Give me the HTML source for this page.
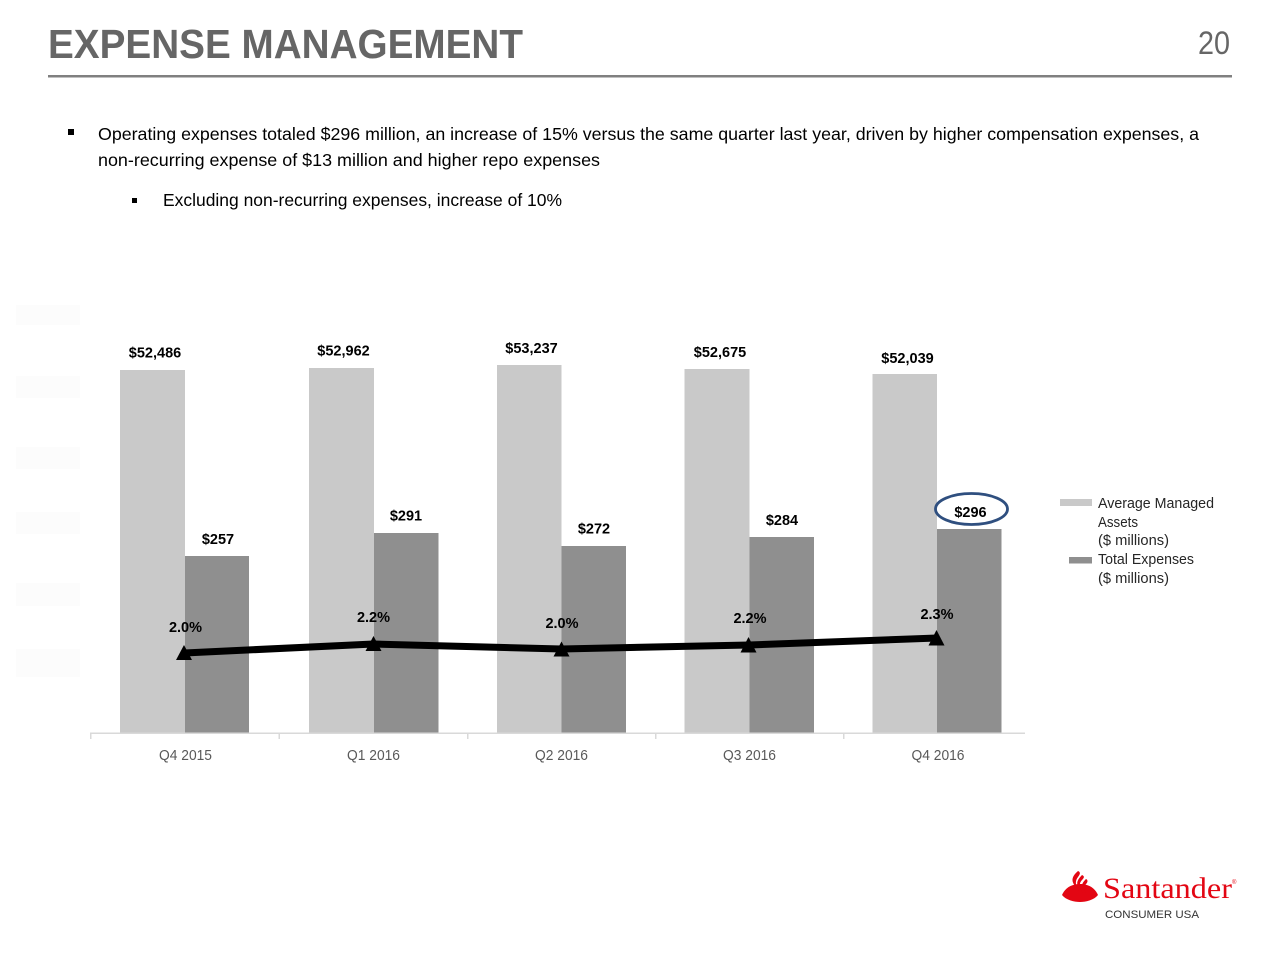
<!DOCTYPE html>
<html>
<head>
<meta charset="utf-8">
<style>
  html, body { margin:0; padding:0; background:#ffffff; }
  body { width:1280px; height:960px; overflow:hidden; }
  svg { display:block; }
  .sans { font-family: "Liberation Sans", Arial, sans-serif; }
  .serif { font-family: "Liberation Serif", "Times New Roman", serif; }
</style>
</head>
<body>
<svg width="1280" height="960" viewBox="0 0 1280 960" xmlns="http://www.w3.org/2000/svg">
  <rect x="0" y="0" width="1280" height="960" fill="#ffffff"/>

  <!-- Header -->
  <text class="sans" x="48" y="58" font-size="41" font-weight="bold" fill="#666666" textLength="475" lengthAdjust="spacingAndGlyphs">EXPENSE MANAGEMENT</text>
  <text class="sans" x="1198" y="54" font-size="32" fill="#666666" textLength="32" lengthAdjust="spacingAndGlyphs">20</text>
  <rect x="48" y="75" width="1184" height="2.5" fill="#808080"/>

  <!-- Bullets -->
  <rect x="68" y="129" width="6" height="6" fill="#000"/>
  <text class="sans" x="98" y="140" font-size="17.5" fill="#000" textLength="1101" lengthAdjust="spacingAndGlyphs">Operating expenses totaled $296 million, an increase of 15% versus the same quarter last year, driven by higher compensation expenses, a</text>
  <text class="sans" x="98" y="166" font-size="17.5" fill="#000" textLength="502" lengthAdjust="spacingAndGlyphs">non-recurring expense of $13 million and higher repo expenses</text>
  <rect x="132" y="198" width="5" height="5" fill="#000"/>
  <text class="sans" x="163" y="206" font-size="17.5" fill="#000" textLength="399" lengthAdjust="spacingAndGlyphs">Excluding non-recurring expenses, increase of 10%</text>

  <!-- faint ghost y-axis labels -->
  <g fill="#fcfcfc">
    <rect x="16" y="305" width="64" height="20"/>
    <rect x="16" y="376" width="64" height="22"/>
    <rect x="16" y="447" width="64" height="22"/>
    <rect x="16" y="512" width="64" height="22"/>
    <rect x="16" y="583" width="64" height="23"/>
    <rect x="16" y="649" width="64" height="28"/>
  </g>

  <!-- Bars: light (Average Managed Assets) -->
  <g fill="#c9c9c9">
    <rect x="120" y="370" width="65" height="363"/>
    <rect x="309" y="368" width="65" height="365"/>
    <rect x="497" y="365" width="64.5" height="368"/>
    <rect x="684.5" y="369" width="65" height="364"/>
    <rect x="872.5" y="374" width="64.5" height="359"/>
  </g>
  <!-- Bars: dark (Total Expenses) -->
  <g fill="#8f8f8f">
    <rect x="185" y="556" width="64" height="177"/>
    <rect x="374" y="533" width="64.5" height="200"/>
    <rect x="561.5" y="546" width="64.5" height="187"/>
    <rect x="749.5" y="537" width="64.5" height="196"/>
    <rect x="937" y="529" width="64.5" height="204"/>
  </g>

  <!-- Axis -->
  <rect x="90" y="732.5" width="935" height="1.5" fill="#d9d9d9"/>
  <g fill="#d9d9d9">
    <rect x="90" y="733" width="1.5" height="6"/>
    <rect x="278.5" y="733" width="1.5" height="6"/>
    <rect x="467" y="733" width="1.5" height="6"/>
    <rect x="655" y="733" width="1.5" height="6"/>
    <rect x="843" y="733" width="1.5" height="6"/>
  </g>
  <g class="sans" font-size="14.5" fill="#595959" text-anchor="middle">
    <text x="185.5" y="760" textLength="53" lengthAdjust="spacingAndGlyphs">Q4 2015</text>
    <text x="373.5" y="760" textLength="53" lengthAdjust="spacingAndGlyphs">Q1 2016</text>
    <text x="561.5" y="760" textLength="53" lengthAdjust="spacingAndGlyphs">Q2 2016</text>
    <text x="749.5" y="760" textLength="53" lengthAdjust="spacingAndGlyphs">Q3 2016</text>
    <text x="938" y="760" textLength="53" lengthAdjust="spacingAndGlyphs">Q4 2016</text>
  </g>

  <!-- Line series -->
  <polyline points="184.5,653 373.5,644 561.5,649 749,645 937,638" fill="none" stroke="#000" stroke-width="7" stroke-linejoin="round"/>
  <g fill="#000">
    <polygon points="184,645 192,660 176,660"/>
    <polygon points="373.5,636 381.5,651 365.5,651"/>
    <polygon points="561.5,641.5 569.5,656.5 553.5,656.5"/>
    <polygon points="748.5,637 756.5,652.5 740.5,652.5"/>
    <polygon points="936.5,630 944.5,645.5 928.5,645.5"/>
  </g>

  <!-- Data labels -->
  <g class="sans" font-size="14.5" font-weight="bold" fill="#000" text-anchor="middle">
    <text x="155" y="357.5">$52,486</text>
    <text x="343.5" y="355.5">$52,962</text>
    <text x="531.5" y="353">$53,237</text>
    <text x="720" y="357">$52,675</text>
    <text x="907.5" y="363">$52,039</text>

    <text x="218" y="544">$257</text>
    <text x="406" y="520.5">$291</text>
    <text x="594" y="533.5">$272</text>
    <text x="782" y="525">$284</text>
    <text x="970.5" y="517">$296</text>

    <text x="185.5" y="632">2.0%</text>
    <text x="373.5" y="622">2.2%</text>
    <text x="562" y="628">2.0%</text>
    <text x="750" y="623">2.2%</text>
    <text x="937" y="619">2.3%</text>
  </g>

  <!-- highlight ellipse -->
  <ellipse cx="971.5" cy="509" rx="36" ry="15.5" fill="none" stroke="#2f4f7f" stroke-width="2.8"/>

  <!-- Legend -->
  <rect x="1060" y="499" width="32" height="7" fill="#c9c9c9"/>
  <rect x="1069" y="557" width="23" height="6.5" fill="#8f8f8f"/>
  <g class="sans" font-size="14.5" fill="#262626">
    <text x="1098" y="508" textLength="116" lengthAdjust="spacingAndGlyphs">Average Managed</text>
    <text x="1098" y="527" textLength="40" lengthAdjust="spacingAndGlyphs">Assets</text>
    <text x="1098" y="545" textLength="71" lengthAdjust="spacingAndGlyphs">($ millions)</text>
    <text x="1098" y="564" textLength="96" lengthAdjust="spacingAndGlyphs">Total Expenses</text>
    <text x="1098" y="583" textLength="71" lengthAdjust="spacingAndGlyphs">($ millions)</text>
  </g>

  <!-- Santander logo -->
  <g fill="#e30613">
    <!-- base bowl -->
    <path d="M1062,895 C1066,886 1074,884 1080,884 C1086,884 1094,886 1098,895 C1094,900 1086,902 1080,902 C1074,902 1066,900 1062,895 Z"/>
    <!-- flame tongues -->
    <path d="M1078,871 C1071,877 1071,882 1076,887 L1079,891 C1075,885 1075,881 1078,877 C1081,873 1080,872 1078,871 Z"/>
    <path d="M1082,875 C1076,881 1076,885 1080,889 L1083,893 C1079,887 1079,883 1082,880 C1085,877 1084,876 1082,875 Z"/>
    <path d="M1086,879 C1081,884 1081,887 1084,890 L1086,893 C1083,889 1084,886 1086,884 C1088,882 1088,880 1086,879 Z"/>
  </g>
  <text class="serif" x="1103" y="898" font-size="30" fill="#e30613" textLength="129" lengthAdjust="spacingAndGlyphs">Santander</text>
  <text class="sans" x="1232" y="884" font-size="6" fill="#e30613">®</text>
  <text class="sans" x="1105" y="918" font-size="11" fill="#333333" textLength="94" lengthAdjust="spacingAndGlyphs">CONSUMER USA</text>
</svg>
</body>
</html>
